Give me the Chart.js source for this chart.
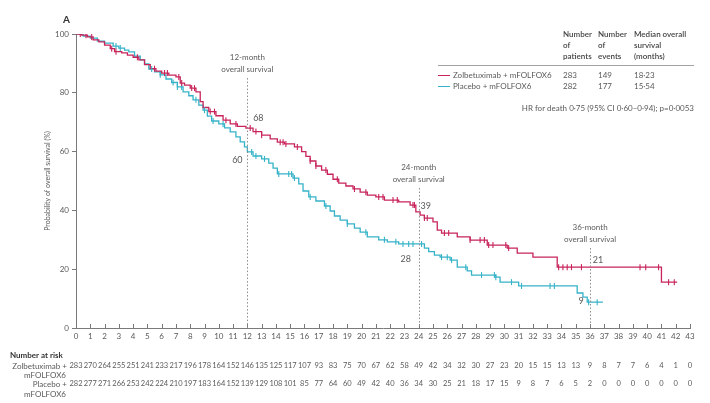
<!DOCTYPE html>
<html>
<head>
<meta charset="utf-8">
<script src="https://cdn.jsdelivr.net/npm/chart.js@4.4.1/dist/chart.umd.min.js"></script>
<style>
  html, body { margin: 0; padding: 0; background: #fff; }
  #wrap { width: 710px; height: 403px; position: relative; }
</style>
</head>
<body>
<div id="wrap"><canvas id="c" width="710" height="403"></canvas></div>
<script>
// Kaplan–Meier overall survival, months vs probability (%)
const zolbeCurve = [
  [0,100],[0.4,99.6],[0.8,99],[1.2,98],[1.6,97.3],[2.0,96.2],[2.4,95],[2.7,94],[3.2,93.6],[3.6,92.8],
  [4.0,92.1],[4.4,91.2],[4.8,89.6],[5.2,88.2],[5.6,87.4],[6.0,86.7],[6.5,86.0],[7.0,85.4],[7.3,83.3],
  [7.6,82.6],[8.0,81.6],[8.4,80.3],[8.7,77],[8.9,75],[9.3,73.6],[9.8,72.2],[10.3,70.7],[10.8,69.4],
  [11.3,68.6],[11.9,68.0],[12.4,66.8],[13.0,65.6],[13.6,64.3],[14.1,63.2],[14.6,62.6],[15.3,61.6],
  [15.8,60],[16.1,58.4],[16.4,56.8],[16.8,55.1],[17.2,53.7],[17.6,52.3],[18.0,50.6],[18.4,49.3],
  [18.9,48.3],[19.4,47.3],[19.9,46.2],[20.4,45.2],[21.0,44.6],[21.6,43.5],[22.6,42.9],[23.4,41.8],
  [23.8,39.5],[24.1,38.4],[24.4,37.4],[25.0,36.1],[25.3,33.3],[25.6,32.3],[26.7,31.0],[27.6,29.9],
  [28.8,28.2],[30.2,27.2],[30.9,25.5],[32.0,24.1],[33.7,20.7],[41.0,15.6],[42.1,15.6]
];
const placeboCurve = [
  [0,100],[0.5,99.3],[1.0,98.6],[1.5,97.6],[2.0,96.9],[2.6,95.9],[3.0,95.2],[3.4,94.5],[3.7,93.9],
  [4.1,92.5],[4.5,91.2],[4.8,89.8],[5.1,88.1],[5.5,87.1],[5.9,86.1],[6.3,84.7],[6.7,83.5],[7.1,82.0],
  [7.5,80.3],[7.9,79],[8.2,77.6],[8.6,75.8],[8.9,74.1],[9.2,72.1],[9.5,70.4],[10.0,69.4],[10.4,68.1],
  [10.8,66.7],[11.2,65.0],[11.5,63.3],[11.8,61.6],[12.0,59.9],[12.4,58.5],[13.0,57.5],[13.5,56.1],
  [13.8,54.4],[14.1,52.4],[15.2,51],[15.6,49],[15.9,46.6],[16.3,44.6],[16.8,43.2],[17.4,41.5],
  [17.8,39.8],[18.1,38.1],[18.5,36.7],[19.0,35.4],[19.5,34],[19.9,32.6],[20.4,31],[21.2,30],
  [21.8,29.3],[22.6,28.6],[24.4,27.2],[24.7,26],[25.1,24.8],[25.5,24.1],[26.2,23.1],[26.7,20.7],
  [27.4,19.4],[27.7,18.0],[29.4,17.3],[29.7,15.6],[31.0,14.3],[35.1,11.9],[35.5,10.5],[35.8,8.8],[36.9,8.8]
];
// censoring times (months)
const zolbeCensored = [0.3,0.7,1.1,2.5,2.8,4.3,5.5,6.2,6.4,7.2,7.4,8.1,8.3,9.4,9.7,10.5,11.2,12.2,12.6,
  13.0,14.3,14.5,14.7,15.5,16.4,16.8,17.5,18.3,19.5,20.3,21.2,21.5,22.2,22.5,23.6,23.7,24.4,24.6,25.8,
  26.1,27.6,28.3,28.6,28.9,29.2,30.1,30.3,33.8,34.1,34.4,34.7,35.4,39.5,39.9,40.8,41.5,41.9];
const placeboCensored = [2.8,3.1,5.3,5.9,6.8,7.1,7.4,8.4,9.0,9.6,10.3,12.3,12.6,13.2,14.2,14.9,15.1,15.3,
  16.4,17.5,19.0,20.3,21.6,22.4,22.9,23.3,23.6,24.2,25.6,26.0,26.3,27.3,28.4,29.3,29.4,30.5,31.2,33.2,
  33.5,35.9,36.5];

const monthTicks = Array.from({length: 44}, (_, i) => i);
const zolbeAtRisk = [283,270,264,255,251,241,233,217,196,178,164,152,146,135,125,117,107,93,83,75,
  70,67,62,58,49,42,34,32,30,27,23,20,15,15,13,13,9,8,7,7,6,4,1,0];
const placeboAtRisk = [282,277,271,266,253,242,224,210,197,183,164,152,139,129,108,101,85,77,64,60,
  49,42,40,36,34,30,25,21,18,17,15,9,8,7,6,5,2,0,0,0,0,0,0,0];

const landmarkMonths = [12, 24, 36];
const zolbeLandmark = [68, 39, 21];
const placeboLandmark = [60, 28, 9];

const armNames = ['Zolbetuximab + mFOLFOX6', 'Placebo + mFOLFOX6'];
const armPatients = [283, 282];
const armEvents = [149, 177];
const armMedian = ['18·23', '15·54'];
const hrText = 'HR for death 0·75 (95% CI 0·60–0·94); p=0·0053';
const yTitle = 'Probability of overall survival (%)';

const RED = '#C8245A';
const CYAN = '#36B3C8';
const TEXT = '#5a5a5a';
const AXIS = '#7a7a7a';
const FONT = 'Lato, "Open Sans", "Noto Sans", sans-serif';

const toXY = arr => arr.map(p => ({x: p[0], y: p[1]}));
function survivalAt(curve, t) {
  let v = curve[0][1];
  for (const p of curve) { if (p[0] <= t) v = p[1]; else break; }
  return v;
}
const censorPts = (curve, times) => times.map(t => ({x: t, y: survivalAt(curve, t)}));

const decorations = {
  id: 'decorations',
  afterDatasetsDraw(chart) {
    const {ctx, scales: {x, y}} = chart;
    ctx.save();
    // upward x-axis ticks
    ctx.strokeStyle = AXIS; ctx.lineWidth = 1;
    const y0 = y.getPixelForValue(0);
    monthTicks.forEach(m => {
      const px = Math.round(x.getPixelForValue(m)) + 0.5;
      ctx.beginPath(); ctx.moveTo(px, y0); ctx.lineTo(px, y0 - 4); ctx.stroke();
    });

    // y-axis title
    ctx.save();
    ctx.translate(48, (y.top + y.bottom) / 2);
    ctx.rotate(-Math.PI / 2);
    ctx.font = '7px ' + FONT;
    ctx.fillStyle = TEXT;
    ctx.textAlign = 'center'; ctx.textBaseline = 'middle';
    ctx.fillText(yTitle, 0, 0);
    ctx.restore();

    // landmark lines
    const lineTops = [85, 47.6, 27.2];
    ctx.setLineDash([1.5, 2]);
    ctx.strokeStyle = '#8c8c8c';
    landmarkMonths.forEach((m, i) => {
      const px = Math.round(x.getPixelForValue(m)) + 0.5;
      ctx.beginPath(); ctx.moveTo(px, y.getPixelForValue(lineTops[i])); ctx.lineTo(px, y0); ctx.stroke();
    });
    ctx.setLineDash([]);
    ctx.fillStyle = TEXT;
    ctx.font = '8px ' + FONT;
    ctx.textAlign = 'center'; ctx.textBaseline = 'middle';
    landmarkMonths.forEach((m, i) => {
      const px = x.getPixelForValue(m);
      const top = y.getPixelForValue(lineTops[i]);
      ctx.fillText(m + '-month', px, top - 21);
      ctx.fillText('overall survival', px, top - 9);
    });
    // landmark values
    ctx.font = '9px ' + FONT;
    const zOff = [[11, -10], [7, -7], [8, -6]];
    const pOff = [[-10, 8], [-13, 13], [-9, 0]];
    landmarkMonths.forEach((m, i) => {
      const px = x.getPixelForValue(m);
      ctx.fillText(String(zolbeLandmark[i]), px + zOff[i][0], y.getPixelForValue(zolbeLandmark[i]) + zOff[i][1]);
      ctx.fillText(String(placeboLandmark[i]), px + pOff[i][0], y.getPixelForValue(placeboLandmark[i]) + pOff[i][1]);
    });

    // panel letter
    ctx.font = 'bold 10px ' + FONT;
    ctx.fillStyle = '#333';
    ctx.textAlign = 'left';
    ctx.fillText('A', 63, 20);

    // summary table
    ctx.fillStyle = '#444';
    const cols = [563, 598, 634];
    const heads = [['Number', 'of', 'patients'], ['Number', 'of', 'events'], ['Median overall', 'survival', '(months)']];
    ctx.font = '600 8px ' + FONT;
    heads.forEach((h, i) => h.forEach((t, j) => ctx.fillText(t, cols[i], 34 + j * 11)));
    ctx.strokeStyle = '#8a8a8a'; ctx.lineWidth = 0.8;
    ctx.beginPath(); ctx.moveTo(438, 65.5); ctx.lineTo(694, 65.5); ctx.stroke();
    ctx.font = '8px ' + FONT;
    ctx.fillStyle = TEXT;
    const rowsY = [75, 86];
    [RED, CYAN].forEach((c, i) => {
      ctx.strokeStyle = c; ctx.lineWidth = 1;
      ctx.beginPath(); ctx.moveTo(438, rowsY[i] + 0.5); ctx.lineTo(450, rowsY[i] + 0.5); ctx.stroke();
      ctx.fillText(armNames[i], 453, rowsY[i]);
      ctx.fillText(String(armPatients[i]), cols[0], rowsY[i]);
      ctx.fillText(String(armEvents[i]), cols[1], rowsY[i]);
      ctx.fillText(armMedian[i], cols[2], rowsY[i]);
    });
    ctx.textAlign = 'right';
    ctx.fillText(hrText, 694, 108);

    // number at risk
    ctx.textAlign = 'left';
    ctx.font = 'bold 8px ' + FONT;
    ctx.fillStyle = '#333';
    ctx.fillText('Number at risk', 10, 355);
    ctx.font = '8px ' + FONT;
    ctx.fillStyle = TEXT;
    ctx.textAlign = 'right';
    ctx.fillText('Zolbetuximab +', 67, 366);
    ctx.fillText('Placebo +', 67, 384);
    ctx.textAlign = 'left';
    ctx.fillText('mFOLFOX6', 24, 375);
    ctx.fillText('mFOLFOX6', 24, 394);
    ctx.textAlign = 'center';
    ctx.font = '7.5px ' + FONT;
    monthTicks.forEach((m, i) => {
      const px = x.getPixelForValue(m);
      ctx.fillText(String(zolbeAtRisk[i]), px, 366);
      ctx.fillText(String(placeboAtRisk[i]), px, 384);
    });
    ctx.restore();
  }
};

new Chart(document.getElementById('c'), {
  type: 'line',
  data: {
    datasets: [
      { data: toXY(placeboCurve), borderColor: CYAN, borderWidth: 1.3, stepped: true, pointRadius: 0, order: 4 },
      { data: toXY(zolbeCurve), borderColor: RED, borderWidth: 1.3, stepped: true, pointRadius: 0, order: 3 },
      { data: censorPts(placeboCurve, placeboCensored), showLine: false, pointStyle: 'line', rotation: 90,
        pointRadius: 3, borderColor: CYAN, borderWidth: 1.1, order: 2 },
      { data: censorPts(zolbeCurve, zolbeCensored), showLine: false, pointStyle: 'line', rotation: 90,
        pointRadius: 3, borderColor: RED, borderWidth: 1.1, order: 1 }
    ]
  },
  options: {
    responsive: false,
    animation: false,
    events: [],
    layout: { padding: { left: 0, right: 20, top: 34, bottom: 0 } },
    plugins: { legend: { display: false }, tooltip: { enabled: false } },
    scales: {
      x: {
        type: 'linear', min: 0, max: 43,
        afterBuildTicks: s => { s.ticks = monthTicks.map(v => ({value: v})); },
        afterFit: s => { s.height = 75; },
        grid: { display: true, drawOnChartArea: false, drawTicks: false },
        border: { color: AXIS, width: 1 },
        ticks: { autoSkip: false, maxRotation: 0, padding: 4, color: TEXT, font: { family: FONT, size: 8 } }
      },
      y: {
        min: 0, max: 100,
        ticks: { stepSize: 20, padding: 3, color: TEXT, font: { family: FONT, size: 8 } },
        afterFit: s => { s.width = 76; },
        grid: { display: true, drawOnChartArea: false, tickLength: 4, color: AXIS },
        border: { color: AXIS, width: 1 }
      }
    }
  },
  plugins: [decorations]
});
</script>
</body>
</html>
